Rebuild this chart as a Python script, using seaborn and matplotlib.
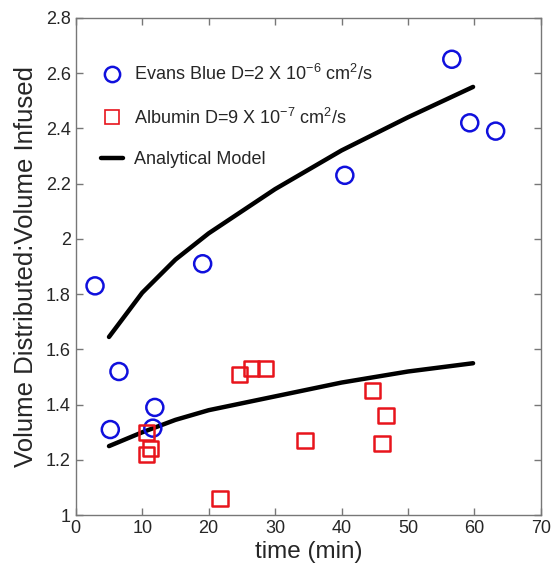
import numpy as np
import pandas as pd
import seaborn as sns
import matplotlib.pyplot as plt
from matplotlib.lines import Line2D

# Evans Blue measurements
eb_time = [2.9, 5.2, 6.5, 11.6, 11.9, 19.1, 40.5, 56.6, 59.3, 63.2]
eb_ratio = [1.83, 1.31, 1.52, 1.315, 1.39, 1.91, 2.23, 2.65, 2.42, 2.39]

# Albumin measurements
alb_time = [10.6, 10.7, 11.3, 21.7, 24.7, 26.5, 28.5, 34.5, 44.7, 46.1, 46.7]
alb_ratio = [1.30, 1.22, 1.24, 1.06, 1.51, 1.53, 1.53, 1.27, 1.45, 1.26, 1.36]

# analytical model curves
model_time = [5.0, 10.0, 15.0, 20.0, 30.0, 40.0, 50.0, 59.8]
model_eb = [1.645, 1.805, 1.925, 2.02, 2.18, 2.32, 2.44, 2.55]
model_alb = [1.25, 1.30, 1.345, 1.38, 1.43, 1.48, 1.52, 1.55]

sns.set_style("ticks")
plt.rcParams['font.family'] = ['Liberation Sans', 'DejaVu Sans']

fig = plt.figure(figsize=(5.53, 5.75), dpi=100)
ax = fig.add_axes([0.137, 0.104, 0.841, 0.865])

df_eb = pd.DataFrame({'t': eb_time, 'v': eb_ratio})
df_alb = pd.DataFrame({'t': alb_time, 'v': alb_ratio})

sns.lineplot(x=model_time, y=model_eb, color='black', linewidth=3.2, ax=ax)
sns.lineplot(x=model_time, y=model_alb, color='black', linewidth=3.2, ax=ax)
sns.scatterplot(data=df_eb, x='t', y='v', marker='o', s=150, facecolor='none',
                edgecolor='#1010dd', linewidth=1.8, ax=ax, zorder=3)
sns.scatterplot(data=df_alb, x='t', y='v', marker='s', s=120, facecolor='none',
                edgecolor='#e8141c', linewidth=1.8, ax=ax, zorder=3)

ax.set_xlim(0, 70)
ax.set_ylim(1, 2.8)
ax.set_xticks(range(0, 71, 10))
ax.set_yticks(np.arange(1, 2.81, 0.2))
ax.set_yticklabels(['1', '1.2', '1.4', '1.6', '1.8', '2', '2.2', '2.4', '2.6', '2.8'])
ax.tick_params(direction='in', top=True, right=True, labelsize=13, length=5,
               color='#777777', width=1)
for sp in ax.spines.values():
    sp.set_color('#777777')
    sp.set_linewidth(1)

ax.set_xlabel('time (min)', fontsize=17.5, labelpad=3)
ax.set_ylabel('Volume Distributed:Volume Infused', fontsize=18.5, labelpad=6)

handles = [
    Line2D([], [], marker='o', linestyle='none', markersize=11, markerfacecolor='none',
           markeredgecolor='#1010dd', markeredgewidth=1.8),
    Line2D([], [], marker='s', linestyle='none', markersize=10, markerfacecolor='none',
           markeredgecolor='#e8141c', markeredgewidth=1.2),
    Line2D([], [], color='black', linewidth=3.2),
]
labels = [
    r'Evans Blue D=2 X 10$^{\mathregular{-6}}$ cm$^{\mathregular{2}}$/s',
    r'Albumin D=9 X 10$^{\mathregular{-7}}$ cm$^{\mathregular{2}}$/s',
    'Analytical Model',
]
ax.legend(handles, labels, loc='upper left', bbox_to_anchor=(0.02, 0.94), frameon=False,
          fontsize=13, handlelength=1.2, handletextpad=0.6, labelspacing=1.3)

plt.savefig('out.png', dpi=100)
